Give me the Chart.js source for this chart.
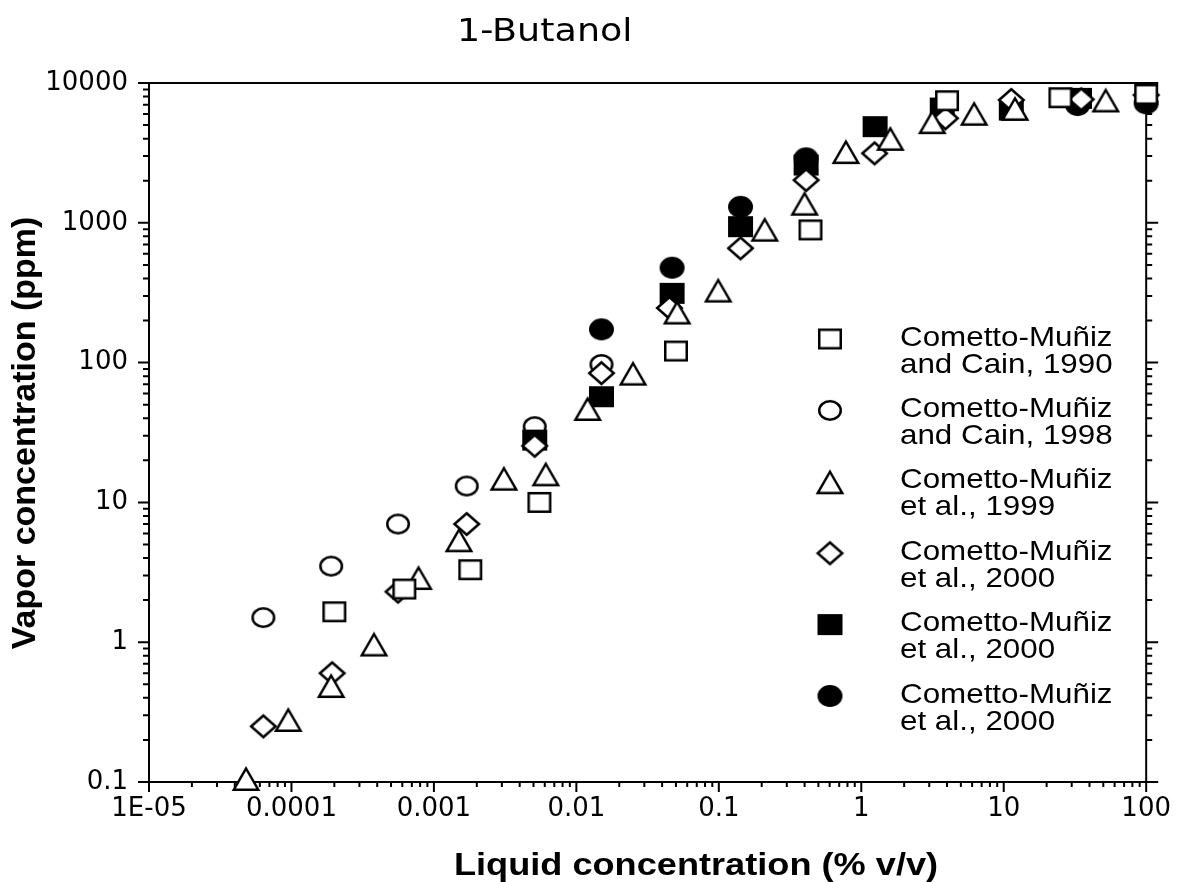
<!DOCTYPE html>
<html>
<head>
<meta charset="utf-8">
<script src="https://cdn.jsdelivr.net/npm/chart.js"></script>
<style>
  body { margin: 0; background: #fff; }
</style>
</head>
<body>
<canvas id="myChart" width="1183" height="882"></canvas>
<script>
// tick values and labels
const xTickValues = [1e-5, 1e-4, 1e-3, 0.01, 0.1, 1, 10, 100];
const xTickLabels = ['1E-05', '0.0001', '0.001', '0.01', '0.1', '1', '10', '100'];
const yTickValues = [0.1, 1, 10, 100, 1000, 10000];
const yTickLabels = ['0.1', '1', '10', '100', '1000', '10000'];

// Cometto-Muñiz and Cain, 1990 (open squares)
const cain1990X = [0.0002, 0.00062, 0.0018, 0.0055, 0.05, 0.44, 4.0, 25, 100];
const cain1990Y = [1.65, 2.4, 3.3, 10, 121, 890, 7470, 7850, 8300];

// Cometto-Muñiz and Cain, 1998 (open circles)
const cain1998X = [0.0000635, 0.00019, 0.00056, 0.0017, 0.0051, 0.015];
const cain1998Y = [1.5, 3.5, 7.0, 13.1, 34.8, 97];

// Cometto-Muñiz et al., 1999 (open triangles)
const etal1999X = [0.000048, 0.000095, 0.00019, 0.00038, 0.00078, 0.0015, 0.0031, 0.0061, 0.012, 0.025,
                   0.051, 0.099, 0.21, 0.40, 0.78, 1.6, 3.15, 6.2, 12, 52];
const etal1999Y = [0.106, 0.28, 0.49, 0.97, 2.9, 5.4, 14.9, 16, 47, 84,
                   230, 330, 900, 1380, 3230, 4020, 5290, 6070, 6590, 7560];

// Cometto-Muñiz et al., 2000 (open diamonds)
const etal2000aX = [0.0000635, 0.000193, 0.00056, 0.0017, 0.0051, 0.015, 0.045, 0.142, 0.41, 1.24, 3.9, 11.3, 35, 100];
const etal2000aY = [0.25, 0.6, 2.3, 7.0, 25.4, 84, 246, 657, 2020, 3140, 5590, 7560, 7640, 8200];

// Cometto-Muñiz et al., 2000 (filled squares)
const etal2000bX = [0.0051, 0.015, 0.047, 0.142, 0.41, 1.25, 3.7, 11.3, 34];
const etal2000bY = [27.9, 57, 313, 938, 2590, 4870, 6620, 6410, 7770];

// Cometto-Muñiz et al., 2000 (filled circles)
const etal2000cX = [0.015, 0.047, 0.142, 0.41, 33, 100];
const etal2000cY = [173, 477, 1300, 2890, 6960, 7160];

// marker pictures, a bit wider than tall like the original
function makeMarker(shape, w, h, filled) {
    const pad = 3;
    const c = document.createElement('canvas');
    c.width = w + 2 * pad;
    c.height = h + 2 * pad;
    const g = c.getContext('2d');
    g.translate(pad, pad);
    g.lineWidth = 2.5;
    g.strokeStyle = '#000';
    g.fillStyle = filled ? '#000' : '#fff';
    g.beginPath();
    if (shape === 'square') {
        g.rect(1.25, 1.25, w - 2.5, h - 2.5);
    } else if (shape === 'circle') {
        g.ellipse(w / 2, h / 2, w / 2 - 1.25, h / 2 - 1.25, 0, 0, Math.PI * 2);
    } else if (shape === 'triangle') {
        g.moveTo(w / 2, 2.5);
        g.lineTo(w - 1.75, h - 1.25);
        g.lineTo(1.75, h - 1.25);
        g.closePath();
    } else if (shape === 'diamond') {
        g.moveTo(w / 2, 1.25);
        g.lineTo(w - 1.25, h / 2);
        g.lineTo(w / 2, h - 1.25);
        g.lineTo(1.25, h / 2);
        g.closePath();
    }
    g.fill();
    g.stroke();
    return c;
}

const markers = {
    square: makeMarker('square', 24, 21, false),
    circle: makeMarker('circle', 24, 21, false),
    triangle: makeMarker('triangle', 28, 25, false),
    diamond: makeMarker('diamond', 27, 24, false),
    filledSquare: makeMarker('square', 25, 21, true),
    filledCircle: makeMarker('circle', 25, 22, true)
};

function points(xs, ys) {
    return xs.map((x, i) => ({ x: x, y: ys[i] }));
}

function series(label, xs, ys, marker, order) {
    return {
        label: label,
        data: points(xs, ys),
        pointStyle: marker,
        pointRadius: 12,
        pointHoverRadius: 12,
        clip: false,
        order: order
    };
}

const datasets = [
    series('Cometto-Muñiz\nand Cain, 1990', cain1990X, cain1990Y, markers.square, 0),
    series('Cometto-Muñiz\nand Cain, 1998', cain1998X, cain1998Y, markers.circle, 4),
    series('Cometto-Muñiz\net al., 1999', etal1999X, etal1999Y, markers.triangle, 1),
    series('Cometto-Muñiz\net al., 2000', etal2000aX, etal2000aY, markers.diamond, 2),
    series('Cometto-Muñiz\net al., 2000', etal2000bX, etal2000bY, markers.filledSquare, 3),
    series('Cometto-Muñiz\net al., 2000', etal2000cX, etal2000cY, markers.filledCircle, 5)
];

// frame, ticks, titles and legend
const framePlugin = {
    id: 'frame',
    beforeDatasetsDraw(chart) {
        const ctx = chart.ctx;
        const a = chart.chartArea;
        const xs = chart.scales.x;
        const ys = chart.scales.y;
        ctx.save();
        ctx.strokeStyle = '#000';
        ctx.lineWidth = 2;
        ctx.strokeRect(a.left, a.top, a.right - a.left, a.bottom - a.top);
        ctx.beginPath();
        xTickValues.forEach((v, i) => {
            const px = xs.getPixelForValue(v);
            ctx.moveTo(px, a.bottom);
            ctx.lineTo(px, a.bottom + 10);
            if (i < xTickValues.length - 1) {
                for (let k = 2; k <= 9; k++) {
                    const mx = xs.getPixelForValue(v * k);
                    ctx.moveTo(mx, a.bottom);
                    ctx.lineTo(mx, a.bottom + 5);
                }
            }
        });
        yTickValues.forEach((v, i) => {
            const py = ys.getPixelForValue(v);
            ctx.moveTo(a.left - 11, py);
            ctx.lineTo(a.left, py);
            ctx.moveTo(a.right, py);
            ctx.lineTo(a.right + 12, py);
            if (i < yTickValues.length - 1) {
                for (let k = 2; k <= 9; k++) {
                    const my = ys.getPixelForValue(v * k);
                    ctx.moveTo(a.left - 6, my);
                    ctx.lineTo(a.left, my);
                    ctx.moveTo(a.right, my);
                    ctx.lineTo(a.right + 6, my);
                }
            }
        });
        ctx.stroke();
        ctx.restore();
    },
    afterDraw(chart) {
        const ctx = chart.ctx;
        ctx.save();
        ctx.fillStyle = '#000';

        // main title
        ctx.save();
        ctx.translate(457, 41);
        ctx.scale(1.14, 1);
        ctx.font = '32px "DejaVu Sans"';
        ctx.textAlign = 'left';
        ctx.textBaseline = 'alphabetic';
        ctx.fillText('1-Butanol', 0, 0);
        ctx.restore();

        // x axis title
        ctx.save();
        ctx.translate(696, 875);
        ctx.scale(1.13, 1);
        ctx.font = 'bold 32px "Liberation Sans"';
        ctx.textAlign = 'center';
        ctx.textBaseline = 'alphabetic';
        ctx.fillText('Liquid concentration (% v/v)', 0, 0);
        ctx.restore();

        // y axis title
        ctx.save();
        ctx.translate(35, 433);
        ctx.rotate(-Math.PI / 2);
        ctx.font = 'bold 34px "Liberation Sans"';
        ctx.textAlign = 'center';
        ctx.textBaseline = 'alphabetic';
        ctx.fillText('Vapor concentration (ppm)', 0, 0);
        ctx.restore();

        // legend
        chart.data.datasets.forEach((ds, i) => {
            const y = 339 + i * 71.4;
            const img = ds.pointStyle;
            ctx.drawImage(img, 830 - img.width / 2, y - img.height / 2);
            const lines = ds.label.split('\n');
            lines.forEach((line, j) => {
                ctx.save();
                ctx.translate(900, y - 1 + j * 27);
                ctx.scale(1.14, 1);
                ctx.font = '27.5px "Liberation Sans"';
                ctx.textAlign = 'left';
                ctx.textBaseline = 'middle';
                ctx.fillText(line, 0, 0);
                ctx.restore();
            });
        });
        ctx.restore();
    }
};

const tickFont = { family: '"DejaVu Sans"', size: 26 };

var ctx = document.getElementById('myChart').getContext('2d');
var myChart = new Chart(ctx, {
    type: 'scatter',
    data: { datasets: datasets },
    plugins: [framePlugin],
    options: {
        responsive: false,
        animation: false,
        events: [],
        layout: { padding: { left: 0, right: 29, top: 83, bottom: 0 } },
        plugins: {
            legend: { display: false },
            tooltip: { enabled: false },
            title: { display: false }
        },
        scales: {
            x: {
                type: 'logarithmic',
                position: 'bottom',
                min: 1e-5,
                max: 100,
                afterBuildTicks: (axis) => { axis.ticks = xTickValues.map(v => ({ value: v })); },
                afterFit: (axis) => { axis.height = 100; },
                grid: { display: false, drawTicks: false },
                border: { display: false },
                ticks: {
                    autoSkip: false,
                    maxRotation: 0,
                    padding: 12,
                    color: '#000',
                    font: tickFont,
                    callback: (value) => {
                        const i = xTickValues.indexOf(value);
                        return i >= 0 ? xTickLabels[i] : '';
                    }
                }
            },
            y: {
                type: 'logarithmic',
                position: 'left',
                min: 0.1,
                max: 10000,
                afterBuildTicks: (axis) => { axis.ticks = yTickValues.map(v => ({ value: v })); },
                afterFit: (axis) => { axis.width = 149; },
                grid: { display: false, drawTicks: false },
                border: { display: false },
                ticks: {
                    autoSkip: false,
                    padding: 21,
                    color: '#000',
                    font: tickFont,
                    callback: (value) => {
                        const i = yTickValues.indexOf(value);
                        return i >= 0 ? yTickLabels[i] : '';
                    }
                }
            }
        }
    }
});
</script>
</body>
</html>
